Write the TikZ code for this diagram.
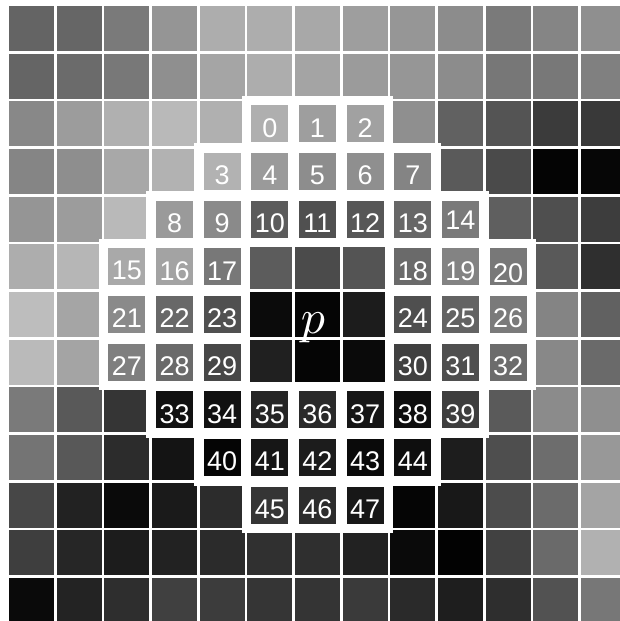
\documentclass[tikz,border=0pt]{standalone}
\usepackage{fontspec}
\newfontfamily\lblfont{Liberation Sans}
\def\P{47.65}
\def\S{45.15}
\def\Ox{9}
\def\Oy{6}
\tikzset{
  lbl/.style={text=white, font=\lblfont\fontsize{27}{27}\selectfont, inner sep=0pt},
  plbl/.style={text=white, font=\fontsize{10}{10}\selectfont, inner sep=0pt, anchor=base, scale=4.8},
}
\begin{document}
\begin{tikzpicture}[x=1pt,y=-1pt]
\fill[white] (0,0) rectangle (619,621);
\useasboundingbox (0,0) rectangle (619,621);
% base grid
\foreach \rowvals [count=\j from 0] in {
 {100,102,122,149,173,173,168,158,150,140,122,133,143},
 {101,107,120,143,165,173,164,155,150,140,119,120,128},
 {136,156,176,185,176,175,158,161,143,97,84,59,57},
 {133,142,168,178,178,154,141,143,132,90,74,4,6},
 {149,156,185,154,138,91,80,87,103,122,95,79,61},
 {173,182,169,163,120,92,75,84,106,131,120,89,47},
 {189,165,138,104,80,11,5,28,79,99,122,132,97},
 {186,164,127,106,71,32,5,10,64,79,108,136,106},
 {122,89,53,17,17,37,42,22,14,62,90,139,143},
 {116,88,44,20,5,22,28,10,15,29,78,109,152},
 {71,34,10,26,44,53,45,24,5,24,76,107,164},
 {62,38,28,34,43,48,47,34,10,2,65,106,177},
 {10,35,46,64,60,53,52,58,42,30,46,82,119}} {
  \foreach \g [count=\i from 0] in \rowvals {
    \definecolor{cellc}{RGB}{\g,\g,\g}
    \pgfmathsetmacro\xa{\Ox+\P*\i}
    \pgfmathsetmacro\ya{\Oy+\P*\j}
    \fill[cellc] (\xa,\ya) rectangle ++(\S,\S);
  }
}
% pattern cells: white surround
\foreach \c/\r in {5/2,6/2,7/2,4/3,5/3,6/3,7/3,8/3,3/4,4/4,5/4,6/4,7/4,8/4,9/4,
  2/5,3/5,4/5,8/5,9/5,10/5,2/6,3/6,4/6,8/6,9/6,10/6,2/7,3/7,4/7,8/7,9/7,10/7,
  3/8,4/8,5/8,6/8,7/8,8/8,9/8,4/9,5/9,6/9,7/9,8/9,5/10,6/10,7/10} {
  \pgfmathsetmacro\xa{\Ox+\P*\c-5.5}
  \pgfmathsetmacro\ya{\Oy+\P*\r-5.5}
  \fill[white] (\xa,\ya) rectangle ++(\S+11,\S+11);
}
% pattern cells: inset gray and labels
\foreach \c/\r/\g/\l/\dy in {
  5/2/175/0/4, 6/2/158/1/4, 7/2/161/2/4,
  4/3/178/3/4, 5/3/154/4/4, 6/3/141/5/4, 7/3/143/6/4, 8/3/132/7/4,
  3/4/154/8/4, 4/4/138/9/4, 5/4/91/10/4, 6/4/80/11/4, 7/4/87/12/4, 8/4/103/13/4, 9/4/122/14/1,
  2/5/169/15/4, 3/5/163/16/4, 4/5/120/17/4, 8/5/106/18/4, 9/5/131/19/4, 10/5/120/20/6,
  2/6/138/21/4, 3/6/104/22/4, 4/6/80/23/4, 8/6/79/24/4, 9/6/99/25/4, 10/6/122/26/4,
  2/7/127/27/4, 3/7/106/28/4, 4/7/71/29/4, 8/7/64/30/4, 9/7/79/31/4, 10/7/108/32/4,
  3/8/17/33/4, 4/8/17/34/4, 5/8/37/35/4, 6/8/42/36/4, 7/8/22/37/4, 8/8/14/38/4, 9/8/62/39/4,
  4/9/5/40/4, 5/9/22/41/4, 6/9/28/42/4, 7/9/10/43/4, 8/9/14/44/4,
  5/10/53/45/4, 6/10/44/46/4, 7/10/23/47/4} {
  \definecolor{cellc}{RGB}{\g,\g,\g}
  \pgfmathsetmacro\xa{\Ox+\P*\c+4}
  \pgfmathsetmacro\ya{\Oy+\P*\r+4}
  \pgfmathsetmacro\xc{\Ox+\P*\c+\S/2}
  \pgfmathsetmacro\yc{\Oy+\P*\r+\S/2+\dy}
  \fill[cellc] (\xa,\ya) rectangle ++(\S-8,\S-8);
  \node[lbl] (n\l) at (\xc,\yc) {\l};
}
\node[plbl] (p) at (313,333) {$p$};
\end{tikzpicture}
\end{document}
